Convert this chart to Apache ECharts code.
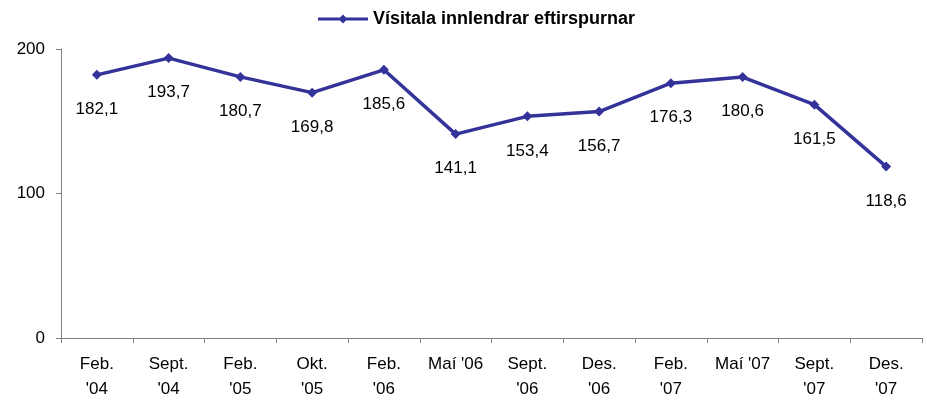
<!DOCTYPE html>
<html>
<head>
<meta charset="utf-8">
<script src="https://cdn.jsdelivr.net/npm/echarts@6/dist/echarts.min.js"></script>
<style>
  html, body { margin: 0; padding: 0; background: #fff; }
  #chart { width: 927px; height: 405px; }
</style>
</head>
<body>
<div id="chart"></div>
<script>
// categories and values
const categories = ["Feb.\n'04", "Sept.\n'04", "Feb.\n'05", "Okt.\n'05", "Feb.\n'06", "Maí '06",
                    "Sept.\n'06", "Des.\n'06", "Feb.\n'07", "Maí '07", "Sept.\n'07", "Des.\n'07"]
const indexValues = [182.1, 193.7, 180.7, 169.8, 185.6, 141.1, 153.4, 156.7, 176.3, 180.6, 161.5, 118.6]
const yTicks = [0, 100, 200]

const font = '"Liberation Sans", Arial, sans-serif'
const chart = echarts.init(document.getElementById('chart'))
const option = {
    backgroundColor: '#fff',
    animation: false,
    textStyle: { fontFamily: font },
    legend: {
        top: 5,
        left: 313,
        itemWidth: 50,
        itemHeight: 10,
        textStyle: { fontFamily: font, fontWeight: 'bold', fontSize: 18, color: '#000' },
        data: [{
            name: 'Vísitala innlendrar eftirspurnar',
            icon: 'path://M0,3.5L50,3.5L50,6.5L0,6.5Z M25,0.5L29.5,5L25,9.5L20.5,5Z'
        }]
    },
    grid: { left: 61, right: 5, top: 49, bottom: 67 },
    xAxis: {
        type: 'category',
        data: categories,
        boundaryGap: true,
        axisLine: { lineStyle: { color: '#808080', width: 1 } },
        axisTick: { show: true, alignWithLabel: false, length: 5, lineStyle: { color: '#808080' } },
        axisLabel: { color: '#000', fontSize: 17, fontFamily: font, lineHeight: 25, margin: 14, interval: 0 }
    },
    yAxis: {
        type: 'value',
        min: yTicks[0],
        max: yTicks[yTicks.length - 1],
        interval: 100,
        splitLine: { show: false },
        axisLine: { show: true, lineStyle: { color: '#808080', width: 1 } },
        axisTick: { show: true, length: 5, lineStyle: { color: '#808080' } },
        axisLabel: { color: '#000', fontSize: 17, fontFamily: font, margin: 16 }
    },
    series: [{
        name: 'Vísitala innlendrar eftirspurnar',
        type: 'line',
        data: indexValues,
        symbol: 'diamond',
        symbolSize: 10,
        lineStyle: { color: '#333399', width: 3.5 },
        itemStyle: { color: '#333399' },
        label: {
            show: true,
            position: 'bottom',
            distance: 20,
            fontSize: 17,
            fontFamily: font,
            color: '#000',
            backgroundColor: '#fff',
            padding: [1, 2],
            formatter: p => p.value.toFixed(1).replace('.', ',')
        }
    }]
}
chart.setOption(option)
</script>
</body>
</html>
